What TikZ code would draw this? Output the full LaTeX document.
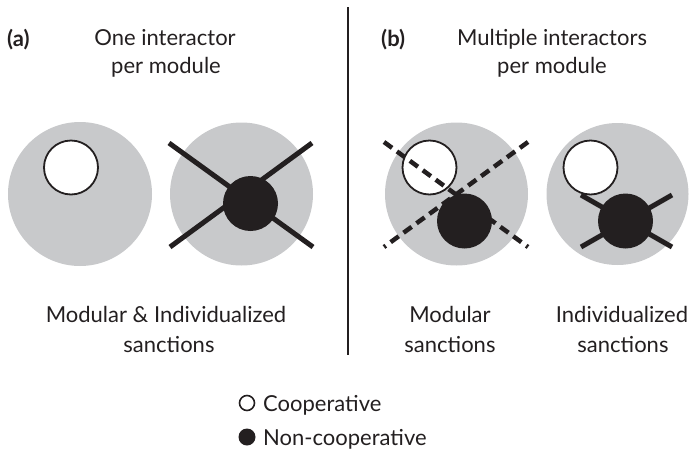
\documentclass[tikz,border=0pt]{standalone}
\usepackage{fontspec}
\setmainfont{Lato}
\begin{document}
\definecolor{modgray}{RGB}{200,201,203}
\definecolor{ink}{RGB}{35,31,32}
\begin{tikzpicture}[x=1pt,y=-1pt,
  module/.style={fill=modgray,draw=none},
  coop/.style={fill=white,draw=ink,line width=1.8pt},
  noncoop/.style={fill=ink,draw=none},
  sanction/.style={draw=ink,line width=5pt},
  modsanction/.style={draw=ink,line width=4.5pt,dash pattern=on 10pt off 6pt},
  lbl/.style={font=\fontsize{22}{26}\selectfont,text=ink,inner sep=0pt,anchor=base},
  panel/.style={font=\fontsize{22}{26}\selectfont\bfseries,text=ink,inner sep=0pt,anchor=base west},
  legend/.style={font=\fontsize{22}{26}\selectfont,text=ink,inner sep=0pt,anchor=base west}]
\useasboundingbox (0,0) rectangle (691,453);

% divider between the two panels
\coordinate (divtop) at (348,7);
\coordinate (divbot) at (348,355);
\draw[ink,line width=2pt] (divtop) -- (divbot);

% panel headings
\node[panel] (pa) at (7,46) {(a)};
\node[lbl] (ta1) at (165,45) {One interactor};
\node[lbl] (ta2) at (166,73) {per module};
\node[panel] (pb) at (381,46) {(b)};
\node[lbl] (tb1) at (552,45) {Multiple interactors};
\node[lbl] (tb2) at (552,73) {per module};

% module 1: a single cooperative interactor
\fill[module] (80,194) circle[radius=72];
\draw[coop] (71,167.5) circle[radius=27];

% module 2: a single non-cooperative interactor, sanctioned
\fill[module] (241.5,194) circle[radius=71.5];
\fill[noncoop] (250.5,203.5) circle[radius=27.5];
\coordinate (m2a) at (169,143);
\coordinate (m2b) at (313,247);
\coordinate (m2c) at (312,143);
\coordinate (m2d) at (170,247);
\draw[sanction] (m2a) -- (m2b);
\draw[sanction] (m2c) -- (m2d);

% module 3: modular sanction hits both interactors
\fill[module] (456.5,194) circle[radius=71.5];
\draw[coop] (429.5,167.5) circle[radius=27];
\fill[noncoop] (464.5,221) circle[radius=27.5];
\coordinate (m3a) at (384,142);
\coordinate (m3b) at (528,247);
\coordinate (m3c) at (528,142);
\coordinate (m3d) at (384,247);
\draw[modsanction] (m3a) -- (m3b);
\draw[modsanction] (m3c) -- (m3d);

% module 4: individualized sanction on the cheater only
\fill[module] (617.5,194) circle[radius=71];
\draw[coop] (590.5,167.5) circle[radius=27];
\fill[noncoop] (625.5,221) circle[radius=27.5];
\coordinate (m4a) at (581,195);
\coordinate (m4b) at (672,247);
\coordinate (m4c) at (672,195);
\coordinate (m4d) at (581,247);
\draw[sanction] (m4a) -- (m4b);
\draw[sanction] (m4c) -- (m4d);

% captions
\node[lbl] (ca1) at (166,322) {Modular \& Individualized};
\node[lbl] (ca2) at (169,352) {sanctions};
\node[lbl] (cb1) at (450,322) {Modular};
\node[lbl] (cb2) at (450,352) {sanctions};
\node[lbl] (cc1) at (622,322) {Individualized};
\node[lbl] (cc2) at (623,352) {sanctions};

% legend
\draw[coop,line width=1.6pt] (247,403) circle[radius=7.5];
\fill[noncoop] (247,437) circle[radius=8.5];
\node[legend] (lg1) at (263,411) {Cooperative};
\node[legend] (lg2) at (263,445) {Non-cooperative};
\end{tikzpicture}
\end{document}
